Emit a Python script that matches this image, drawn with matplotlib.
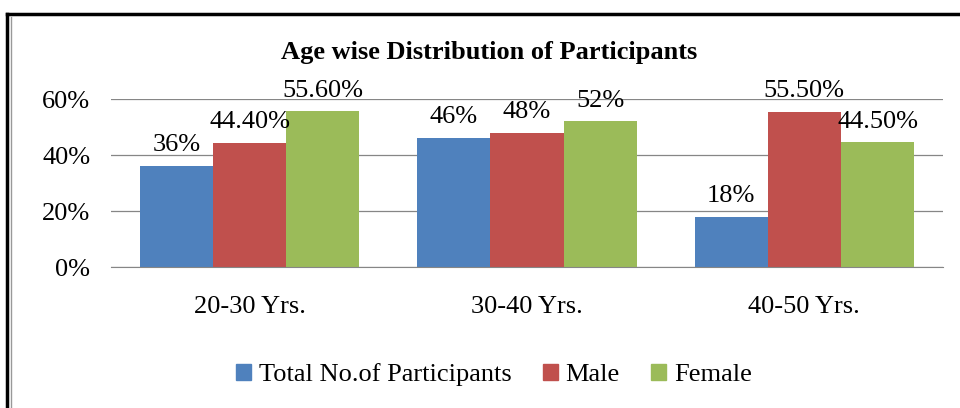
import matplotlib
matplotlib.use("Agg")
from matplotlib import pyplot as plt
from matplotlib.patches import Rectangle
from matplotlib.lines import Line2D
import numpy as np

categories = ["20-30 Yrs.", "30-40 Yrs.", "40-50 Yrs."]
series_names = ["Total No.of Participants", "Male", "Female"]
total = [36, 46, 18]
male = [44.4, 48, 55.5]
female = [55.6, 52, 44.5]
labels_total = ["36%", "46%", "18%"]
labels_male = ["44.40%", "48%", "55.50%"]
labels_female = ["55.60%", "52%", "44.50%"]
colors = ["#4F81BD", "#C0504D", "#9BBB59"]

plt.rcParams['font.family'] = ['Liberation Serif', 'DejaVu Serif']

fig = plt.figure(figsize=(9.6, 4.08), dpi=100, facecolor='w')
ax = fig.add_axes([111/960, 1 - 267/408, (943 - 111)/960, (267 - 99)/408])

x = np.arange(len(categories))
w = 0.264
series = [total, male, female]
labels = [labels_total, labels_male, labels_female]
for i, (vals, labs) in enumerate(zip(series, labels)):
    xs = x + (i - 1) * w
    ax.bar(xs, vals, width=w, color=colors[i], label=series_names[i], zorder=3)
    for xi, v, lab in zip(xs, vals, labs):
        ax.annotate(lab, (xi, v), xytext=(0, 7), textcoords='offset points',
                    ha='center', va='bottom', fontsize=19, zorder=4)

ax.set_xlim(-0.5, 2.5)
ax.set_ylim(0, 60)
ax.set_yticks([0, 20, 40, 60])
ax.set_yticklabels(["0%", "20%", "40%", "60%"], fontsize=19)
ax.set_xticks(x)
ax.set_xticklabels(categories, fontsize=19)
ax.tick_params(axis='both', length=0)
ax.tick_params(axis='y', pad=15)
ax.tick_params(axis='x', pad=21)
ax.grid(axis='y', color='#868686', linewidth=0.9, zorder=0)
for s in ['left', 'right', 'top']:
    ax.spines[s].set_visible(False)
ax.spines['bottom'].set_color('#868686')
ax.spines['bottom'].set_zorder(5)

fig.text(489/960, 1 - 52/408, "Age wise Distribution of Participants",
         ha='center', va='center', fontsize=19, fontweight='bold')

handles = [Rectangle((0, 0), 1, 1, color=c) for c in colors]
fig.legend(handles, series_names, loc='center', bbox_to_anchor=(494/960, 1 - 375/408),
           ncol=3, frameon=False, fontsize=19, handlelength=0.55, handleheight=0.55,
           handletextpad=0.3, columnspacing=1.2)

# chart frame
fig.add_artist(Line2D([7/960, 7/960], [0, 1 - 14/408], color='black', linewidth=2.5,
                      transform=fig.transFigure))
fig.add_artist(Line2D([7/960, 1], [1 - 14/408, 1 - 14/408], color='black', linewidth=2.5,
                      transform=fig.transFigure))
fig.add_artist(Line2D([10.5/960, 10.5/960], [0, 1 - 17/408], color='#999999', linewidth=1,
                      transform=fig.transFigure))

fig.savefig("out.png", dpi=100, facecolor='w')
